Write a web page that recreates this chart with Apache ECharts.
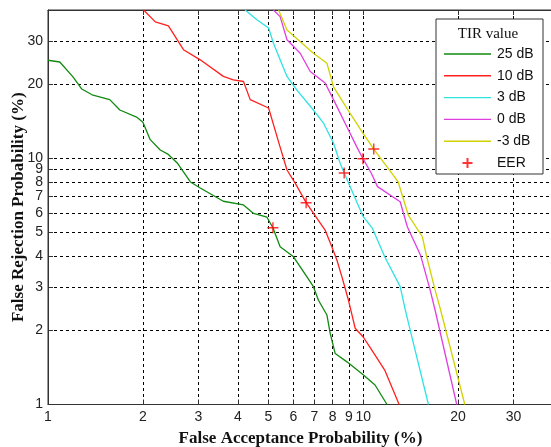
<!DOCTYPE html>
<html>
<head>
<meta charset="utf-8">
<script src="https://cdn.jsdelivr.net/npm/echarts@6/dist/echarts.min.js"></script>
<style>
html,body{margin:0;padding:0;background:#fff;}
#main{width:551px;height:447px;}
</style>
</head>
<body>
<div id="main"></div>
<script>
// Tick values (both axes are logarithmic, in %)
const xTicks = [1, 2, 3, 4, 5, 6, 7, 8, 9, 10, 20, 30];
const yTicks = [1, 2, 3, 4, 5, 6, 7, 8, 9, 10, 20, 30];

// Series names
const seriesNames = ['25 dB', '10 dB', '3 dB', '0 dB', '-3 dB', 'EER'];

// DET curves: [false acceptance %, false rejection %]
const tir25 = [[1.0,25.0],[1.09,24.6],[1.2,21.4],[1.28,19.1],[1.38,18.1],[1.57,17.3],[1.69,15.7],[1.91,14.7],[2.0,14.0],[2.11,11.9],[2.27,10.8],[2.40,10.4],[2.57,9.57],[2.83,8.01],[3.04,7.57],[3.60,6.69],[4.17,6.46],[4.49,5.97],[4.95,5.76],[5.17,5.22],[5.45,4.37],[6.01,3.98],[6.63,3.30],[6.95,3.01],[7.21,2.65],[7.67,2.31],[7.86,1.94],[8.15,1.61],[8.88,1.49],[10.0,1.32],[10.9,1.2],[11.9,1.0]];
const tir10 = [[2.01,40],[2.19,35.8],[2.41,34.5],[2.69,27.6],[3.04,25.1],[3.60,21.5],[3.87,20.8],[4.17,20.5],[4.38,17.3],[5.01,16.0],[5.45,11.1],[5.73,8.96],[6.09,7.91],[6.59,6.60],[7.57,5.11],[7.95,4.37],[8.25,3.86],[8.56,3.30],[8.98,2.65],[9.43,2.04],[10.0,1.88],[10.5,1.71],[11.7,1.38],[13.0,1.0]];
const tir3 = [[4.22,40],[4.60,36.5],[5.01,33.8],[5.19,29.3],[5.73,21.5],[6.16,18.9],[6.95,15.7],[7.48,13.9],[8.05,11.5],[8.45,9.55],[8.70,8.71],[10.0,5.79],[10.7,5.19],[11.7,3.98],[13.1,3.01],[13.6,2.42],[14.1,2.0],[16.1,1.0]];
const tir0 = [[5.19,40],[5.45,37.6],[5.73,30.3],[6.31,26.7],[6.79,22.5],[7.57,20.2],[8.05,17.3],[8.88,13.4],[9.55,11.1],[9.98,9.96],[10.6,8.71],[11.1,7.67],[13.1,6.66],[13.8,5.27],[15.2,4.04],[16.3,2.92],[16.9,2.42],[19.8,1.0]];
const tirM3 = [[5.39,40],[5.73,33.2],[6.95,26.7],[7.67,24.3],[8.05,19.5],[9.09,15.2],[10.0,12.6],[10.5,11.5],[10.8,10.9],[12.9,8.03],[13.9,5.88],[15.4,4.80],[15.9,3.98],[16.9,2.92],[17.6,2.42],[21.0,1.0]];
const eer = [[5.17,5.22],[6.59,6.60],[8.70,8.71],[9.98,9.96],[10.8,10.9]];

const colors = ['#108a10', '#ff2020', '#2fe3e3', '#e03ee0', '#d2d200', '#ff0000'];
const curves = [tir25, tir10, tir3, tir0, tirM3];

const chart = echarts.init(document.getElementById('main'), null, {renderer: 'canvas'});

const labelFont = {fontFamily: 'Liberation Sans', fontSize: 14, color: '#222'};
const nameFont = {fontFamily: 'Liberation Serif', fontSize: 17, fontWeight: 'bold', color: '#111'};
const plusPath = 'path://M0,5L10,5M5,0L5,10';

const series = curves.map((d, i) => ({
  name: seriesNames[i],
  type: 'line',
  data: d,
  symbol: 'none',
  smooth: false,
  lineStyle: {color: colors[i], width: 1.3},
  itemStyle: {color: colors[i]},
  z: 2
}));
series.push({
  name: 'EER',
  type: 'scatter',
  data: eer,
  symbol: plusPath,
  symbolSize: 11,
  itemStyle: {color: 'rgba(0,0,0,0)', borderColor: '#ff0000', borderWidth: 1.4},
  z: 3
});

const lineIcon = 'path://M0,0H47V1.4H0Z';
const legendData = seriesNames.map(n => n === 'EER' ? {name: n, icon: plusPath} : {name: n, icon: lineIcon});

const tickCommon = {show: true, inside: true, length: 5, lineStyle: {color: '#333'}};

chart.setOption({
  animation: false,
  backgroundColor: '#fff',
  grid: {left: 48, top: 10, right: -2, bottom: 42.5, show: true, borderColor: '#333', borderWidth: 1,
         backgroundColor: 'transparent', containLabel: false, outerBoundsMode: 'none'},
  xAxis: [{
    type: 'log', logBase: 10, min: 1, max: 40,
    name: 'False Acceptance Probability (%)', nameLocation: 'middle', nameGap: 26, nameMoveOverlap: false,
    nameTextStyle: nameFont,
    axisLine: {show: true, lineStyle: {color: '#333', width: 1}},
    axisTick: Object.assign({customValues: xTicks}, tickCommon),
    axisLabel: Object.assign({customValues: xTicks, margin: 6, formatter: v => String(Math.round(v))}, labelFont),
    splitLine: {show: true, lineStyle: {color: '#000', type: [3, 3], width: 1}},
    minorTick: {show: false}, minorSplitLine: {show: false}
  }, {
    type: 'log', logBase: 10, min: 1, max: 40, position: 'top',
    axisLine: {show: true, lineStyle: {color: '#333', width: 1}},
    axisTick: Object.assign({customValues: xTicks}, tickCommon),
    axisLabel: {show: false},
    splitLine: {show: false}
  }],
  yAxis: {
    type: 'log', logBase: 10, min: 1, max: 40,
    name: 'False Rejection Probability (%)', nameLocation: 'middle', nameGap: 21, nameRotate: 90, nameMoveOverlap: false,
    nameTextStyle: nameFont,
    axisLine: {show: true, lineStyle: {color: '#333', width: 1}},
    axisTick: Object.assign({customValues: yTicks}, tickCommon),
    axisLabel: Object.assign({customValues: yTicks, margin: 5, formatter: v => String(Math.round(v))}, labelFont),
    splitLine: {show: true, lineStyle: {color: '#000', type: [3, 3], width: 1}},
    minorTick: {show: false}, minorSplitLine: {show: false}
  },
  legend: {
    orient: 'vertical', left: 444, top: 47,
    itemWidth: 47, itemHeight: 10, itemGap: 7.8,
    data: legendData,
    textStyle: {fontFamily: 'Liberation Sans', fontSize: 14, color: '#111', padding: [0, 0, 0, 1]},
    padding: 0, z: 6
  },
  graphic: [
    {type: 'rect', z: 5, shape: {x: 436, y: 19, width: 107, height: 155},
     style: {fill: '#fff', stroke: '#333', lineWidth: 1}},
    {type: 'text', z: 6, x: 488, y: 34,
     style: {text: 'TIR value', fill: '#111', font: '15px "Liberation Serif"', textAlign: 'center', textVerticalAlign: 'middle'}}
  ],
  series: series
});
</script>
</body>
</html>
